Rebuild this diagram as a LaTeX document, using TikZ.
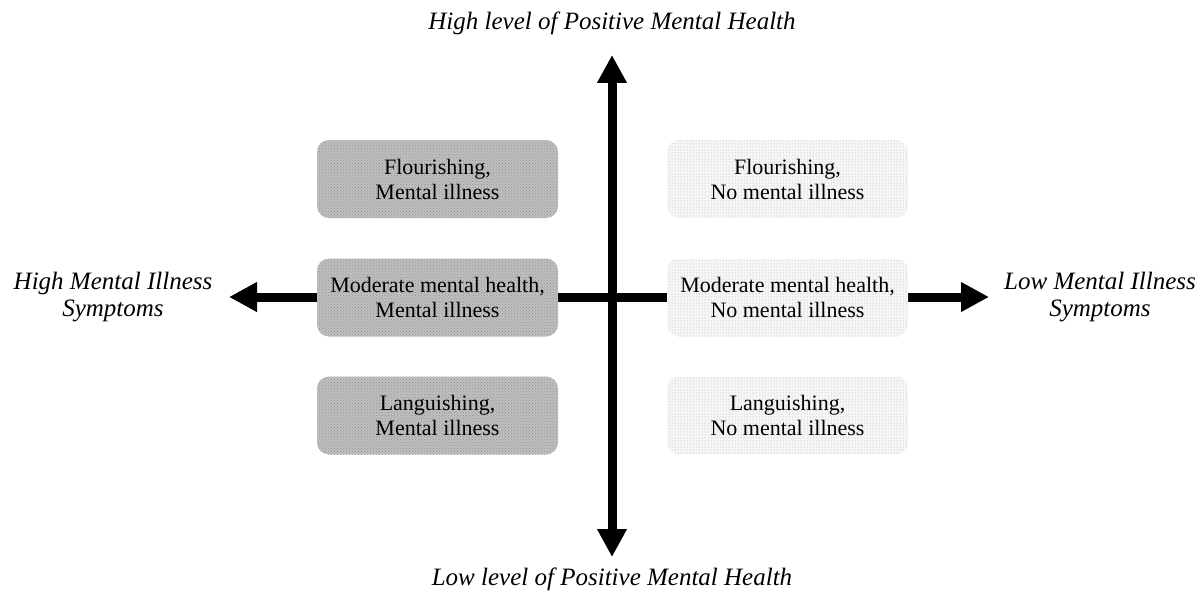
\documentclass[tikz,border=0pt]{standalone}
\usepackage{fontspec}
\setmainfont{Liberation Serif}
\usetikzlibrary{arrows.meta,patterns}
\begin{document}
\begin{tikzpicture}[x=1pt,y=-1pt,
  axis/.style={line width=9pt,-{Triangle[length=28pt,width=28pt]}},
  leftbox/.style={rounded corners=12pt,minimum width=241pt,minimum height=78pt,fill=gray!50,
    postaction={pattern=crosshatch dots,pattern color=gray!85},align=center,
    font=\fontsize{22}{25}\selectfont,inner sep=0pt},
  rightbox/.style={rounded corners=12pt,minimum width=241pt,minimum height=78pt,fill=gray!6,
    postaction={pattern=dots,pattern color=gray!70},align=center,
    font=\fontsize{22}{25}\selectfont,inner sep=0pt},
  title/.style={font=\fontsize{25}{27}\selectfont\itshape,align=center,inner sep=0pt}]
\useasboundingbox (0,0) rectangle (1200,594);
\fill[white] (0,0) rectangle (1200,594);
\coordinate (top) at (612,55);
\coordinate (bot) at (612,557);
\coordinate (lft) at (229,297);
\coordinate (rgt) at (989,297);
\coordinate (ctr) at (612,297);
\draw[axis] (ctr) -- (top);
\draw[axis] (ctr) -- (bot);
\draw[axis] (ctr) -- (lft);
\draw[axis] (ctr) -- (rgt);
\node[leftbox] (lf) at (437.5,179) {Flourishing,\\Mental illness};
\node[leftbox] (lm) at (437.5,297.5) {Moderate mental health,\\Mental illness};
\node[leftbox] (ll) at (437.5,415.5) {Languishing,\\Mental illness};
\node[rightbox] (rf) at (787.5,179) {Flourishing,\\No mental illness};
\node[rightbox] (rm) at (787.5,297.5) {Moderate mental health,\\No mental illness};
\node[rightbox] (rl) at (787.5,415.5) {Languishing,\\No mental illness};
\node[title] (tt) at (612,23) {High level of Positive Mental Health};
\node[title] (bt) at (612,579) {Low level of Positive Mental Health};
\node[title] (lt) at (113,297) {High Mental Illness\\Symptoms};
\node[title] (rt) at (1100,297) {Low Mental Illness\\Symptoms};
\end{tikzpicture}
\end{document}
